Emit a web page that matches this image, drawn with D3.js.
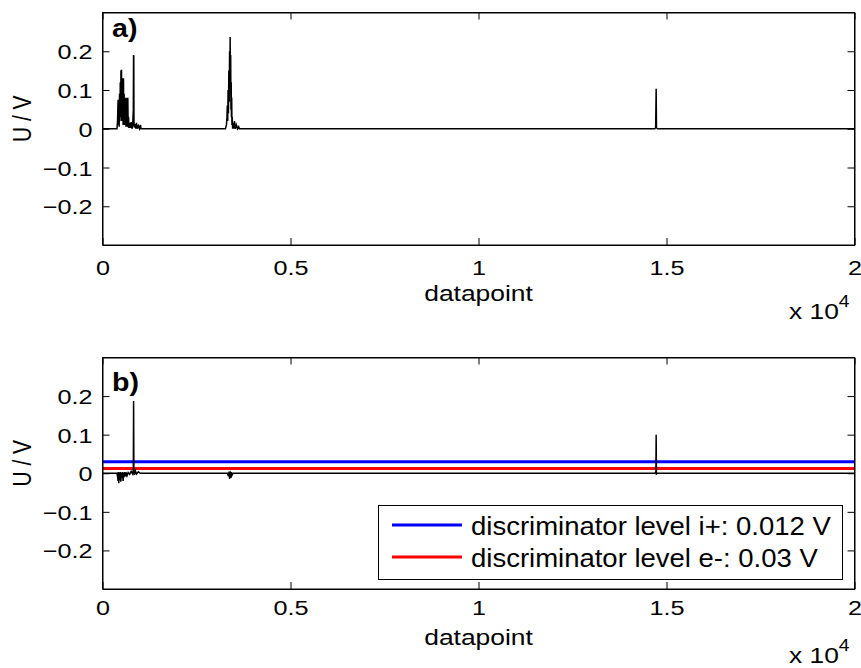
<!DOCTYPE html>
<html>
<head>
<meta charset="utf-8">
<script src="https://cdn.jsdelivr.net/npm/d3@7"></script>
<style>
  body { margin: 0; background: #fff; }
  svg { display: block; font-family: "Liberation Sans", Arial, sans-serif; }
</style>
</head>
<body>
<div id="chart"></div>
<script>
// ---- data ----
const xTicks = [0, 5000, 10000, 15000, 20000];
const yTicks = [-0.2, -0.1, 0, 0.1, 0.2];
const xDomain = [0, 20000];
const yDomain = [-0.3, 0.3];

// panel a) raw signal: [datapoint, volts]
const signalA = [
  [0, 0], [385, 0], [400, 0.02], [410, 0.06], [416, 0.075], [422, 0.01], [428, 0.05], [435, 0.07],
  [443, 0.005], [453, 0.09], [463, 0.02], [473, 0.12], [481, 0.03], [491, 0.15], [498, 0.04],
  [505, 0.152], [513, 0.02], [521, 0.13], [529, 0.03], [538, 0.11], [548, 0.01], [558, 0.13],
  [566, 0.02], [575, 0.09], [583, 0.01], [593, 0.08], [603, 0.02], [615, 0.08], [623, 0.005],
  [633, 0.08], [643, 0.01], [653, 0.075], [663, 0.005], [673, 0.08], [683, 0.004], [693, 0.03],
  [703, 0.002], [723, 0.015], [743, 0.002], [763, 0.017], [783, 0], [803, 0.01], [820, 0.05],
  [826, 0.19], [832, 0.188], [837, 0.02], [845, 0.003], [865, 0.012], [885, 0], [903, 0.015],
  [925, 0], [955, 0.008], [985, 0], [1010, 0.01], [1025, 0],
  [3270, 0], [3296, 0.01], [3310, 0.03], [3320, 0.06], [3330, 0.02], [3340, 0.1], [3350, 0.04],
  [3360, 0.15], [3370, 0.07], [3380, 0.2], [3388, 0.1], [3395, 0.237], [3401, 0.12], [3409, 0.19],
  [3416, 0.05], [3423, 0.12], [3429, 0.03], [3436, 0.08], [3443, 0.01], [3451, 0.03], [3461, 0],
  [3481, 0.015], [3501, 0], [3511, 0.02], [3531, 0], [3561, 0.01], [3591, 0], [3621, 0.005], [3641, 0],
  [14690, 0], [14712, 0.003], [14725, 0.103], [14734, 0.002], [14760, 0], [20000, 0]
];

// panel b) signal after processing
const signalB = [
  [0, 0], [385, 0], [403, -0.01], [413, -0.02], [423, 0.003], [433, -0.026], [443, 0.002],
  [458, -0.018], [473, 0.003], [488, -0.022], [503, 0.002], [518, -0.012], [533, 0.003],
  [548, -0.02], [563, 0.002], [578, -0.01], [593, 0.003], [613, -0.008], [633, 0.002],
  [653, -0.006], [683, 0.002], [723, -0.003], [763, 0.005], [803, -0.002], [820, 0.01],
  [827, 0.187], [835, 0.005], [850, -0.004], [875, 0.006], [905, -0.002], [955, 0.004], [1005, 0],
  [3320, 0], [3350, -0.008], [3365, 0.004], [3380, -0.015], [3395, 0.005], [3410, -0.012],
  [3425, 0.003], [3440, -0.006], [3470, 0],
  [14690, 0], [14718, 0.003], [14725, 0.1], [14732, -0.002], [14760, 0], [20000, 0]
];

// discriminator levels (as drawn)
const levelNames = ["discriminator level i+: 0.012 V", "discriminator level e-: 0.03 V"];
const levelValues = [0.03, 0.012];
const levelColors = ["#0000ff", "#ff0000"];

// ---- layout ----
const W = 861, H = 668;
const left = 102.5, right = 854.5;
const sx = 1.2; // picture text is stretched sideways
const panels = [
  { top: 12.5, bottom: 245, label: "a)", labelY: 37, tickY: 15, data: signalA, levels: false },
  { top: 357.5, bottom: 589, label: "b)", labelY: 391, tickY: 11, data: signalB, levels: true }
];

const svg = d3.select("#chart").append("svg")
  .attr("width", W)
  .attr("height", H);

const x = d3.scaleLinear().domain(xDomain).range([left, right]);

function stretchText(g, px, py, str, opts) {
  const o = opts || {};
  const k = o.sx || sx;
  return g.append("text")
    .attr("transform", `translate(${px},${py}) scale(${k},1)` + (o.rotate ? " rotate(-90)" : ""))
    .attr("text-anchor", o.anchor || "start")
    .attr("font-size", (o.size || 21) + "px")
    .attr("font-weight", o.bold ? "bold" : "normal")
    .attr("fill", "#000")
    .text(str);
}

panels.forEach((p, pi) => {
  const y = d3.scaleLinear().domain(yDomain).range([p.bottom, p.top]);
  const g = svg.append("g");
  const clipId = "clip" + pi;

  svg.append("clipPath").attr("id", clipId)
    .append("rect")
    .attr("x", left).attr("y", p.top)
    .attr("width", right - left).attr("height", p.bottom - p.top);

  const plot = g.append("g").attr("clip-path", `url(#${clipId})`);

  if (p.levels) {
    plot.selectAll(".level")
      .data(levelValues)
      .enter().append("line")
      .attr("x1", x(xDomain[0])).attr("x2", x(xDomain[1]))
      .attr("y1", d => y(d)).attr("y2", d => y(d))
      .attr("stroke", (d, i) => levelColors[i])
      .attr("stroke-width", 3);
  }

  plot.append("path")
    .datum(p.data)
    .attr("fill", "none")
    .attr("stroke", "#000")
    .attr("stroke-width", 1.5)
    .attr("d", d3.line().x(d => x(d[0])).y(d => y(d[1])));

  // ticks inside the box on all four sides
  const axL = g.append("g").attr("transform", `translate(${left},0)`)
    .call(d3.axisLeft(y).tickValues(yTicks).tickSize(-7).tickSizeOuter(0)
      .tickFormat(d => d3.format("")(+d.toFixed(1))));
  const axR = g.append("g").attr("transform", `translate(${right},0)`)
    .call(d3.axisRight(y).tickValues(yTicks).tickSize(-7).tickSizeOuter(0).tickFormat(""));
  const axB = g.append("g").attr("transform", `translate(0,${p.bottom})`)
    .call(d3.axisBottom(x).tickValues(xTicks).tickSize(-7).tickSizeOuter(0)
      .tickFormat(d => d3.format("")(d / 1e4)));
  const axT = g.append("g").attr("transform", `translate(0,${p.top})`)
    .call(d3.axisTop(x).tickValues(xTicks).tickSize(-7).tickSizeOuter(0).tickFormat(""));

  [axL, axR, axB, axT].forEach(a => {
    a.select(".domain").attr("stroke", "#000").attr("stroke-width", 1);
    a.selectAll(".tick line").attr("stroke", "#000");
    a.selectAll("text").attr("font-family", "Liberation Sans, Arial, sans-serif")
      .attr("font-size", "21px").attr("fill", "#000");
  });
  axL.selectAll(".tick text")
    .attr("x", -10 / sx)
    .attr("dy", "0.36em")
    .attr("transform", `scale(${sx},1)`);
  axB.selectAll(".tick text")
    .attr("y", p.tickY)
    .attr("transform", `scale(${sx},1)`);

  g.append("rect")
    .attr("x", left).attr("y", p.top)
    .attr("width", right - left).attr("height", p.bottom - p.top)
    .attr("fill", "none").attr("stroke", "#000").attr("stroke-width", 1);

  // labels
  stretchText(g, 31, (p.top + p.bottom) / 2 - 10, "U / V", { rotate: true, anchor: "middle" });
  stretchText(g, (left + right) / 2, p.bottom + 56, "datapoint", { anchor: "middle", size: 22 });
  const pow = stretchText(g, 789, p.bottom + 74, "x 10", { size: 22 });
  pow.append("tspan").attr("dy", -12).attr("font-size", "16px").text("4");
  stretchText(g, 112, p.labelY, p.label, { bold: true, size: 26, sx: 1.1 });

  if (p.levels) {
    const lg = g.append("g");
    lg.append("rect")
      .attr("x", 378.5).attr("y", 505.5)
      .attr("width", 464).attr("height", 74)
      .attr("fill", "#fff").attr("stroke", "#000").attr("stroke-width", 1);
    levelNames.forEach((name, i) => {
      const ly = 525 + i * 32;
      lg.append("line")
        .attr("x1", 392).attr("x2", 462)
        .attr("y1", ly).attr("y2", ly)
        .attr("stroke", levelColors[i]).attr("stroke-width", 3);
      stretchText(lg, 471, ly + 10, name, { size: 25, sx: 1.1 });
    });
  }
});
</script>
</body>
</html>
